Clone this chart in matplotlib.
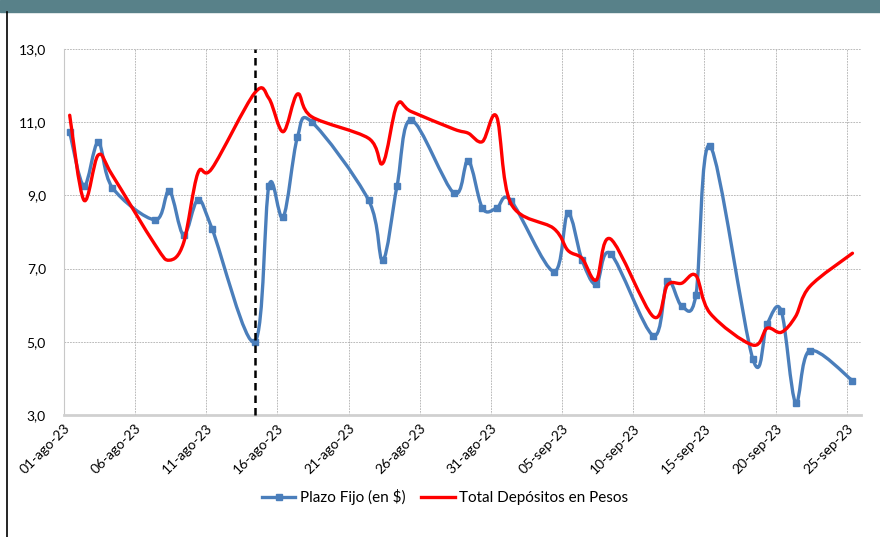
import numpy as np
import pandas as pd
import matplotlib
matplotlib.use("Agg")
import matplotlib.pyplot as plt
import matplotlib.dates as mdates
from matplotlib.path import Path
from matplotlib.patches import PathPatch
from matplotlib.lines import Line2D

plt.rcParams['font.family'] = ['Lato', 'DejaVu Sans']

fechas = ["2023-08-01", "2023-08-02", "2023-08-03", "2023-08-04", "2023-08-07",
          "2023-08-08", "2023-08-09", "2023-08-10", "2023-08-11", "2023-08-14",
          "2023-08-15", "2023-08-16", "2023-08-17", "2023-08-18", "2023-08-22",
          "2023-08-23", "2023-08-24", "2023-08-25", "2023-08-28", "2023-08-29",
          "2023-08-30", "2023-08-31", "2023-09-01", "2023-09-04", "2023-09-05",
          "2023-09-06", "2023-09-07", "2023-09-08", "2023-09-11", "2023-09-12",
          "2023-09-13", "2023-09-14", "2023-09-15", "2023-09-18", "2023-09-19",
          "2023-09-20", "2023-09-21", "2023-09-22", "2023-09-25"]

plazo_fijo = [10.73, 9.26, 10.45, 9.21, 8.33, 9.12, 7.92, 8.87, 8.09, 5.00,
              9.26, 8.40, 10.59, 11.01, 8.87, 7.23, 9.26, 11.06, 9.06, 9.95,
              8.65, 8.65, 8.86, 6.92, 8.51, 7.23, 6.57, 7.41, 5.17, 6.66,
              5.98, 6.28, 10.35, 4.53, 5.49, 5.84, 3.34, 4.76, 3.94]

total_pesos = [11.19, 8.87, 10.10, 9.55, 7.65, 7.23, 7.70, 9.60, 9.74, 11.80,
               11.65, 10.74, 11.77, 11.15, 10.56, 9.88, 11.47, 11.29, 10.81, 10.70,
               10.47, 11.15, 8.78, 8.10, 7.50, 7.28, 6.69, 7.81, 5.69, 6.55,
               6.60, 6.81, 5.78, 4.91, 5.37, 5.26, 5.69, 6.51, 7.42]

fecha_corte = "2023-08-14"
tick_fechas = pd.date_range("2023-08-01", "2023-09-25", freq="5D")
meses = {8: "ago", 9: "sep"}

azul = "#4a7ebb"
rojo = "#ff0000"


def smooth_path(x, y):
    # curva tipo Excel: bezier cubica con tangentes de Catmull-Rom
    p = np.column_stack([x, y])
    pts = np.vstack([p[0], p, p[-1]])
    verts = [p[0]]
    codes = [Path.MOVETO]
    for i in range(1, len(pts) - 2):
        c1 = pts[i] + (pts[i + 1] - pts[i - 1]) / 6
        c2 = pts[i + 1] - (pts[i + 2] - pts[i]) / 6
        verts += [c1, c2, pts[i + 1]]
        codes += [Path.CURVE4] * 3
    return Path(verts, codes)


off = 0.4
x = mdates.date2num(pd.to_datetime(fechas)) + off

fig = plt.figure(figsize=(8.8, 5.37), dpi=100)
ax = fig.add_axes([64 / 880, 1 - 415 / 537, (861 - 64) / 880, (415 - 49) / 537])

# franja superior y borde izquierdo
fig.patches.append(plt.Rectangle((0, 1 - 12 / 537), 1, 12 / 537, transform=fig.transFigure,
                                 color="#588189", zorder=0))
fig.add_artist(Line2D([7 / 880, 7 / 880], [0, 1 - 12 / 537], color="black", lw=1.2))

ax.add_patch(PathPatch(smooth_path(x, plazo_fijo), fill=False, edgecolor=azul, lw=2.4,
                       capstyle="round", joinstyle="round", zorder=3))
ax.plot(x, plazo_fijo, ls="none", marker="s", ms=4.5, color=azul, zorder=4)
ax.add_patch(PathPatch(smooth_path(x, total_pesos), fill=False, edgecolor=rojo, lw=2.4,
                       capstyle="round", joinstyle="round", zorder=5))

xc = mdates.date2num(pd.Timestamp(fecha_corte)) + off
ax.plot([xc, xc], [3, 13], color="black", ls=(0, (3, 2)), lw=1.8, clip_on=False, zorder=6)

ax.set_ylim(3, 13)
ax.set_yticks([3, 5, 7, 9, 11, 13])
ax.set_yticklabels([f"{v:.1f}".replace(".", ",") for v in [3, 5, 7, 9, 11, 13]], fontsize=10)
ax.set_xlim(mdates.date2num(pd.Timestamp("2023-08-01")), mdates.date2num(pd.Timestamp("2023-09-26")))
ax.set_xticks(mdates.date2num(tick_fechas))
ax.set_xticklabels([f"{d.day:02d}-{meses[d.month]}-23" for d in tick_fechas],
                   rotation=45, ha="right", rotation_mode="anchor", fontsize=10)
ax.tick_params(axis="y", length=0, pad=13)
ax.tick_params(axis="x", length=0, pad=5)
ax.grid(True, color="#a0a0a0", ls=(0, (2.5, 1.5)), lw=0.5)
for s in ["top", "right"]:
    ax.spines[s].set_visible(False)
ax.spines["left"].set_color("#c8c8c8")
ax.spines["bottom"].set_color("#d0d0d0")
ax.spines["bottom"].set_linewidth(2)

handles = [Line2D([], [], color=azul, lw=2.4, marker="s", ms=4),
           Line2D([], [], color=rojo, lw=2.4)]
fig.legend(handles, ["Plazo Fijo (en $)", "Total Depósitos en Pesos"], loc="center",
           bbox_to_anchor=(445 / 880, 1 - 497 / 537), ncol=2, frameon=False, fontsize=11,
           handlelength=2.2, handletextpad=0.3, columnspacing=1.0)

fig.savefig("out.png", dpi=100)
